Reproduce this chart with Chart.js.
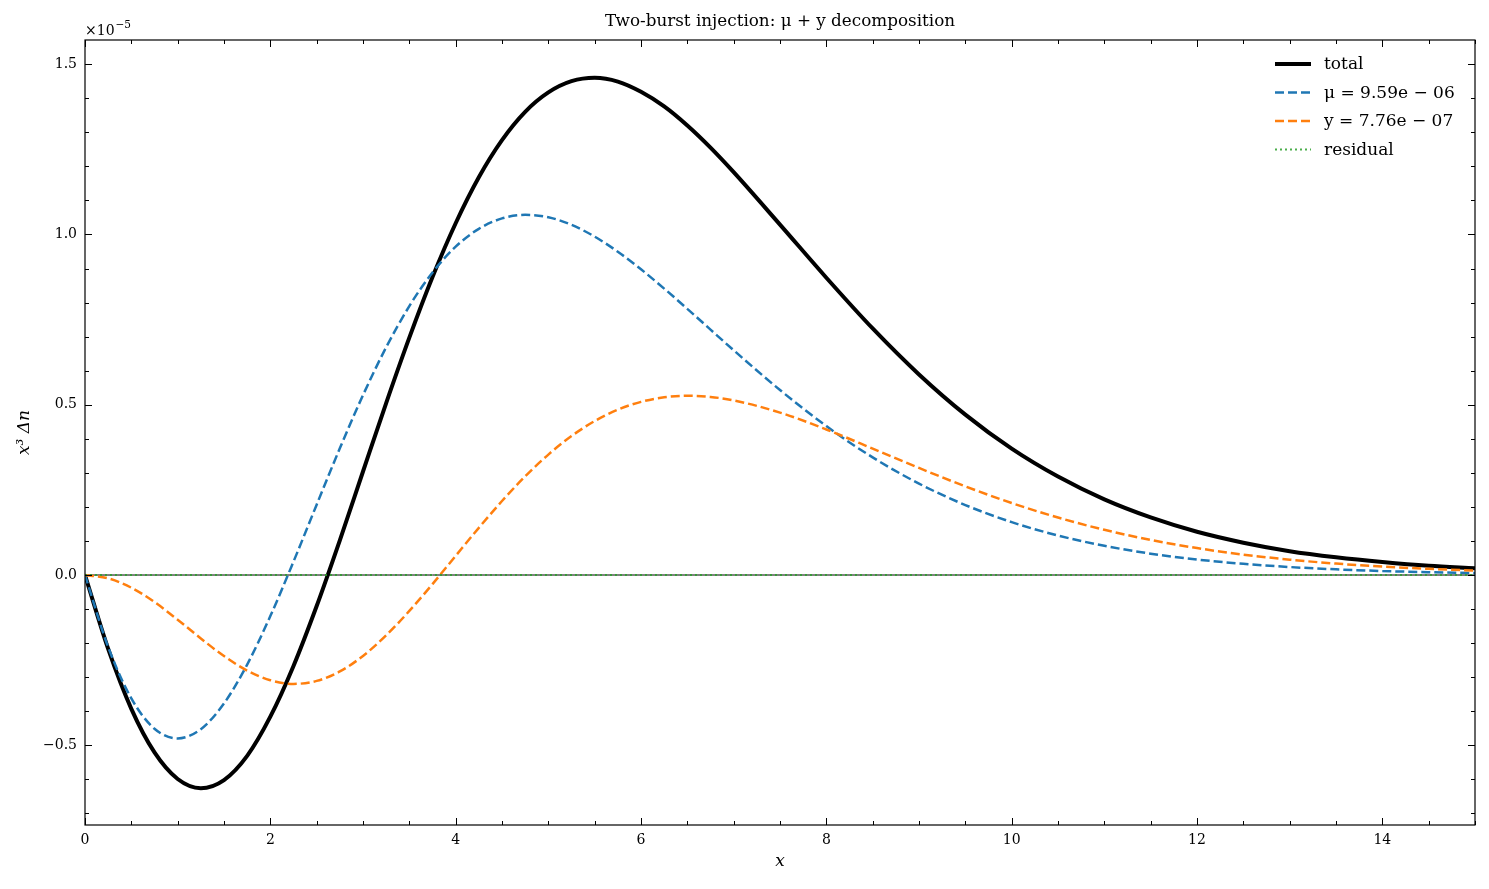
<!DOCTYPE html>
<html>
<head>
<meta charset="utf-8">
<script src="https://cdn.jsdelivr.net/npm/chart.js@4.4.1/dist/chart.umd.min.js"></script>
<style>
  body { margin: 0; background: #fff; }
  #wrap { width: 1489px; height: 889px; }
</style>
</head>
<body>
<div id="wrap"><canvas id="distChart"></canvas></div>
<script>
// values in units of 1e-5
const xValues = [0, 0.25, 0.5, 0.75, 1, 1.25, 1.5, 1.75, 2, 2.25, 2.5, 2.75, 3, 3.25, 3.5, 3.75, 4, 4.25, 4.5, 4.75, 5,
    5.25, 5.5, 5.75, 6, 6.25, 6.5, 6.75, 7, 7.5, 8, 8.5, 9, 9.5, 10, 10.5, 11, 11.5, 12, 12.5, 13, 13.5, 14, 14.5, 15];
const totalValues = [0, -0.217, -0.393, -0.521, -0.599, -0.626, -0.602, -0.531, -0.416, -0.267, -0.091, 0.102, 0.304, 0.505, 0.697, 0.875, 1.033, 1.168, 1.277, 1.360, 1.417,
    1.450, 1.460, 1.449, 1.419, 1.376, 1.320, 1.255, 1.183, 1.029, 0.873, 0.724, 0.589, 0.471, 0.371, 0.289, 0.222, 0.169, 0.127, 0.095, 0.070, 0.052, 0.038, 0.027, 0.020];
const muValues = [0, -0.2113, -0.3624, -0.4514, -0.4798, -0.4525, -0.3770, -0.2629, -0.1205, 0.0394, 0.2066, 0.3721, 0.5281, 0.6687, 0.7897, 0.8885, 0.9641, 1.0166, 1.0471, 1.0577, 1.0505,
    1.0282, 0.9936, 0.9493, 0.8977, 0.8411, 0.7816, 0.7207, 0.6600, 0.5432, 0.4373, 0.3454, 0.2684, 0.2055, 0.1553, 0.1160, 0.0858, 0.0628, 0.0456, 0.0329, 0.0235, 0.0167, 0.0118, 0.0083, 0.0058];
const yDistValues = [0, -0.0096, -0.0372, -0.0794, -0.1312, -0.1862, -0.2380, -0.2806, -0.3088, -0.3197, -0.3109, -0.2832, -0.2376, -0.1771, -0.1054, -0.0266, 0.0563, 0.1386, 0.2173, 0.2897, 0.3537,
    0.4081, 0.4521, 0.4855, 0.5085, 0.5218, 0.5263, 0.5229, 0.5128, 0.4770, 0.4274, 0.3713, 0.3144, 0.2603, 0.2114, 0.1689, 0.1328, 0.1031, 0.0791, 0.0600, 0.0451, 0.0336, 0.0248, 0.0182, 0.0132];
const residualValues = [0, 0, 0, 0, 0, 0, 0, 0, 0, 0, 0, 0, 0, 0, 0, 0, 0, 0, 0, 0, 0,
    0, 0, 0, 0, 0, 0, 0, 0, 0, 0, 0, 0, 0, 0, 0, 0, 0, 0, 0, 0, 0, 0, 0, 0];

const chartTitle = 'Two-burst injection: μ + y decomposition';
const seriesLabels = ['total', 'μ = 9.59e − 06', 'y = 7.76e − 07', 'residual'];
const xTickValues = [0, 2, 4, 6, 8, 10, 12, 14];
const yTickValues = [-0.5, 0, 0.5, 1.0, 1.5];
const yTickLabels = ['−0.5', '0.0', '0.5', '1.0', '1.5'];

const serif = "'DejaVu Serif', serif";

function toPoints(values) {
    return xValues.map((x, i) => ({ x: x, y: values[i] }));
}

// title, frame, inward ticks, zero line, offset label and legend
const decorations = {
    id: 'decorations',
    beforeDatasetsDraw(chart) {
        const ctx = chart.ctx;
        const area = chart.chartArea;
        const y0 = chart.scales.y.getPixelForValue(0);
        ctx.save();
        ctx.strokeStyle = '#000';
        ctx.lineWidth = 1;
        ctx.beginPath();
        ctx.moveTo(area.left, y0);
        ctx.lineTo(area.right, y0);
        ctx.stroke();
        ctx.restore();
    },
    afterDraw(chart) {
        const ctx = chart.ctx;
        const area = chart.chartArea;
        const xs = chart.scales.x;
        const ys = chart.scales.y;
        ctx.save();

        // title centred over the axes
        ctx.fillStyle = '#000';
        ctx.font = '16.8px ' + serif;
        ctx.textAlign = 'center';
        ctx.textBaseline = 'middle';
        ctx.fillText(chartTitle, (area.left + area.right) / 2, 22);

        ctx.strokeStyle = '#000';
        ctx.lineWidth = 1.2;
        ctx.strokeRect(area.left, area.top, area.right - area.left, area.bottom - area.top);

        ctx.lineWidth = 1;
        ctx.beginPath();
        for (let k = 0; k <= 30; k++) {
            const px = Math.round(xs.getPixelForValue(k / 2)) + 0.5;
            const len = k % 4 === 0 ? 7 : 4;
            ctx.moveTo(px, area.bottom);
            ctx.lineTo(px, area.bottom - len);
            ctx.moveTo(px, area.top);
            ctx.lineTo(px, area.top + len);
        }
        for (let k = -7; k <= 15; k++) {
            const py = Math.round(ys.getPixelForValue(k / 10)) + 0.5;
            const len = k % 5 === 0 ? 7 : 4;
            ctx.moveTo(area.left, py);
            ctx.lineTo(area.left + len, py);
            ctx.moveTo(area.right, py);
            ctx.lineTo(area.right - len, py);
        }
        ctx.stroke();

        // offset text
        ctx.textBaseline = 'alphabetic';
        ctx.textAlign = 'left';
        ctx.font = '14px ' + serif;
        ctx.fillText('×10', area.left, area.top - 5);
        const w = ctx.measureText('×10').width;
        ctx.font = '10.5px ' + serif;
        ctx.fillText('−5', area.left + w + 1, area.top - 12);

        // legend
        ctx.font = '17px ' + serif;
        ctx.textBaseline = 'middle';
        chart.data.datasets.forEach((ds, i) => {
            const ly = 64 + i * 28.5;
            ctx.strokeStyle = ds.borderColor;
            ctx.lineWidth = ds.borderWidth;
            ctx.setLineDash(ds.borderDash || []);
            ctx.beginPath();
            ctx.moveTo(1275, ly);
            ctx.lineTo(1311, ly);
            ctx.stroke();
            ctx.setLineDash([]);
            ctx.fillStyle = '#000';
            ctx.fillText(ds.label, 1324, ly + 1);
        });
        ctx.restore();
    }
};

const ctx = document.getElementById('distChart').getContext('2d');
const chart = new Chart(ctx, {
    type: 'line',
    data: {
        datasets: [
            {
                label: seriesLabels[0],
                data: toPoints(totalValues),
                borderColor: '#000000',
                borderWidth: 4,
                order: 4
            },
            {
                label: seriesLabels[1],
                data: toPoints(muValues),
                borderColor: '#1f77b4',
                borderWidth: 2.5,
                borderDash: [9, 4],
                order: 3
            },
            {
                label: seriesLabels[2],
                data: toPoints(yDistValues),
                borderColor: '#ff7f0e',
                borderWidth: 2.5,
                borderDash: [9, 4],
                order: 2
            },
            {
                label: seriesLabels[3],
                data: toPoints(residualValues),
                borderColor: 'rgba(44, 160, 44, 0.85)',
                borderWidth: 2,
                borderDash: [2, 3],
                order: 1
            }
        ]
    },
    options: {
        responsive: true,
        maintainAspectRatio: false,
        animation: false,
        layout: { padding: { left: 0, right: 14, top: 40, bottom: 0 } },
        elements: {
            point: { radius: 0 },
            line: { cubicInterpolationMode: 'monotone', fill: false }
        },
        plugins: {
            legend: { display: false },
            tooltip: { enabled: false },
            title: { display: false }
        },
        scales: {
            x: {
                type: 'linear',
                min: 0,
                max: 15,
                afterFit(scale) { scale.height = 64; },
                afterBuildTicks(scale) { scale.ticks = xTickValues.map(v => ({ value: v })); },
                grid: { display: false, drawTicks: false },
                border: { display: false },
                ticks: {
                    color: '#000',
                    padding: 7,
                    maxRotation: 0,
                    font: { family: serif, size: 14 },
                    callback: v => String(v)
                },
                title: {
                    display: true,
                    text: 'x',
                    color: '#000',
                    font: { family: serif, size: 17, style: 'italic' },
                    padding: { top: 0, bottom: 17 }
                }
            },
            y: {
                type: 'linear',
                min: -0.734,
                max: 1.571,
                afterFit(scale) { scale.width = 85; },
                afterBuildTicks(scale) { scale.ticks = yTickValues.map(v => ({ value: v })); },
                grid: { display: false, drawTicks: false },
                border: { display: false },
                ticks: {
                    color: '#000',
                    padding: 8,
                    font: { family: serif, size: 14 },
                    callback: v => yTickLabels[yTickValues.indexOf(v)]
                },
                title: {
                    display: true,
                    text: 'x³ Δn',
                    color: '#000',
                    font: { family: serif, size: 17, style: 'italic' },
                    padding: { top: 14, bottom: 0 }
                }
            }
        }
    },
    plugins: [decorations]
});
</script>
</body>
</html>
